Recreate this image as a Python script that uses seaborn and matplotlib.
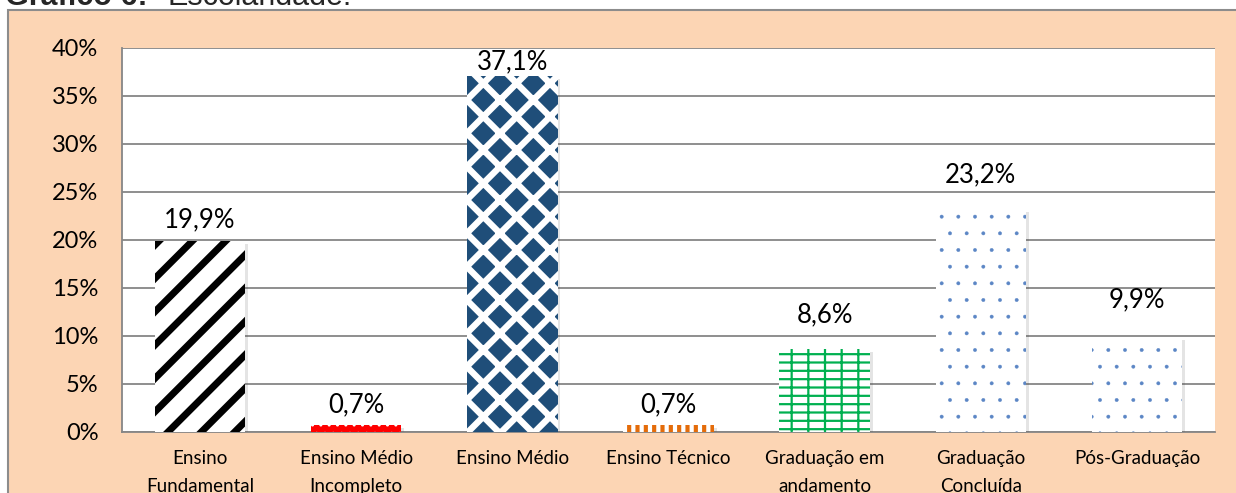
import matplotlib
matplotlib.use("Agg")
import matplotlib.pyplot as plt
import seaborn as sns
import pandas as pd
from matplotlib.patches import Rectangle
from matplotlib.ticker import FuncFormatter
import matplotlib.patheffects as pe

# ---------------- data ----------------
categories = ["Ensino\nFundamental", "Ensino Médio\nIncompleto", "Ensino Médio",
              "Ensino Técnico", "Graduação em\nandamento", "Graduação\nConcluída",
              "Pós-Graduação"]
values = [19.9, 0.7, 37.1, 0.7, 8.6, 23.2, 9.9]
value_labels = ["19,9%", "0,7%", "37,1%", "0,7%", "8,6%", "23,2%", "9,9%"]
y_ticks = [0, 5, 10, 15, 20, 25, 30, 35, 40]
title_bold = "Gráfico 6:"
title_rest = "Escolaridade."

# ---------------- styles ----------------
# (facecolor, hatch colour, hatch pattern, hatch linewidth)
bar_styles = [
    ("white", "black", "/", 5.0),
    ("#FF0000", "white", "..", 1.0),
    ("#1F4E79", "white", "x", 4.6),
    ("white", "#E46C0A", "||", 3.0),
    ("white", "#00B050", "--|", 1.6),
    ("white", "#5B86C5", ".", 0.3),
    ("white", "#5B86C5", ".", 0.3),
]
# label distance above each bar, in points
label_offsets = [6.5, 6.0, 1.0, 6.0, 16.0, 16.0, 17.5]

W, H, DPI = 1236, 493, 100
sns.set_style("white")
plt.rcParams["font.family"] = ["Lato", "DejaVu Sans"]

fig = plt.figure(figsize=(W / DPI, H / DPI), dpi=DPI, facecolor="white")

# peach chart-area background
bg = Rectangle((8 / W, -0.1), 1.2, 1 - 10 / H + 0.1, transform=fig.transFigure,
               facecolor="#FCD5B4", edgecolor="#8C8C8C", lw=1.5, zorder=-5)
fig.patches.append(bg)

ax = fig.add_axes([122 / W, 1 - 432 / H, (1215 - 122) / W, (432 - 48) / H])
ax.set_facecolor("white")

df = pd.DataFrame({"cat": categories, "val": values})
sns.barplot(data=df, x="cat", y="val", ax=ax, width=0.58, color="white",
            saturation=1, linewidth=0, zorder=3)


class Shadow(pe.AbstractPathEffect):
    def __init__(self, offset=(2.0, -2.0), alpha=0.15):
        super().__init__(offset)
        self.alpha = alpha

    def draw_path(self, renderer, gc, tpath, affine, rgbFace=None):
        gc0 = renderer.new_gc()
        gc0.copy_properties(gc)
        gc0.set_hatch(None)
        gc0.set_linewidth(0)
        gc0.set_foreground((0, 0, 0, 0))
        renderer.draw_path(gc0, tpath, affine + self._offset_transform(renderer),
                           (0.3, 0.3, 0.3, self.alpha))
        gc0.restore()


for patch, (fc, hc, hatch, hlw) in zip(ax.patches, bar_styles):
    patch.set_facecolor(fc)
    patch.set_edgecolor(hc)
    patch.set_linewidth(0)
    patch.set_hatch(hatch)
    if hasattr(patch, "set_hatch_linewidth"):
        patch.set_hatch_linewidth(hlw)
    patch.set_path_effects([Shadow(), pe.Normal()])

ax.set_ylim(y_ticks[0], y_ticks[-1])
ax.set_xlim(-0.5, len(categories) - 0.5)
ax.set_yticks(y_ticks)
ax.yaxis.set_major_formatter(FuncFormatter(lambda v, p: f"{v:.0f}%"))
ax.set_xlabel("")
ax.set_ylabel("")

ax.yaxis.grid(True, color="#868686", lw=1.3)
ax.xaxis.grid(False)
ax.set_axisbelow(True)
for s in ["top", "right"]:
    ax.spines[s].set_visible(False)
for s in ["left", "bottom"]:
    ax.spines[s].set_color("#868686")
    ax.spines[s].set_linewidth(1.3)

ax.tick_params(axis="y", length=0, pad=17, labelsize=17, labelcolor="black")
ax.tick_params(axis="x", length=0, pad=13, labelsize=13.5, labelcolor="black")
for lab in ax.get_xticklabels():
    lab.set_linespacing(1.75)

for i, (v, txt, off) in enumerate(zip(values, value_labels, label_offsets)):
    ax.annotate(txt, xy=(i, v), xytext=(0, off), textcoords="offset points",
                ha="center", va="bottom", fontsize=18.5, color="black", zorder=5,
                annotation_clip=False)

# title (cut at the top edge as in the reference)
fig.text(5 / W, 1 - 5 / H, title_bold, fontsize=22, fontweight="bold",
         family=["Liberation Sans", "DejaVu Sans"], ha="left", va="baseline")
fig.text(168 / W, 1 - 5 / H, title_rest, fontsize=22,
         family=["Liberation Sans", "DejaVu Sans"], ha="left", va="baseline")

fig.savefig("out.png", dpi=DPI, facecolor="white")
